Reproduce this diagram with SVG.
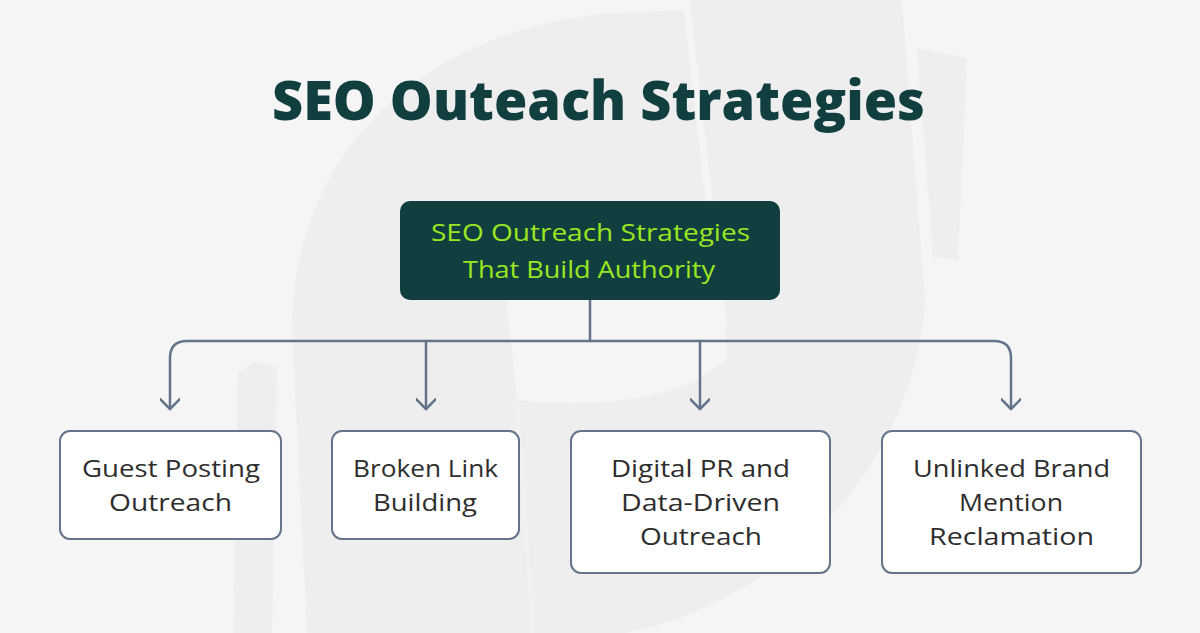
<svg xmlns="http://www.w3.org/2000/svg" width="1200" height="633" viewBox="0 0 1200 633">
  <style>
    .wm { fill: #eeeeee; }
    .wml { fill: #f5f5f5; }
    .title { font-family: "Open Sans", "Liberation Sans", sans-serif; font-weight: 800; font-size: 55px; fill: #113f3f; }
    .root { fill: #113f3f; }
    .roottxt { font-family: "Open Sans", "Liberation Sans", sans-serif; font-weight: 500; font-size: 24.5px; fill: #9be622; text-anchor: middle; }
    .leaf { fill: #ffffff; stroke: #64748b; stroke-width: 2; }
    .leaftxt { font-family: "Open Sans", "Liberation Sans", sans-serif; font-weight: 500; font-size: 24px; fill: #2e2e2e; text-anchor: middle; }
    .conn { fill: none; stroke: #64748b; stroke-width: 2.5; stroke-linecap: round; stroke-linejoin: round; }
  </style>
  <defs>
    <marker id="arrow" viewBox="0 0 20 20" refX="16" refY="10" markerWidth="20" markerHeight="20" markerUnits="userSpaceOnUse" orient="auto-start-reverse">
      <path d="M 6 0 L 16 10 L 6 20" fill="none" stroke="#64748b" stroke-width="2.5" stroke-linecap="round" stroke-linejoin="round"/>
    </marker>
  </defs>
  <rect x="0" y="0" width="1200" height="633" fill="#f5f5f5"/>
  <g id="watermark">
    <path class="wm" d="M 307 633 L 292 330 C 292 180 390 40 600 14 L 684 10 L 690 0 L 902 0 L 925 300 C 915 460 790 600 625 633 Z"/>
    <path class="wml" d="M 500 240 L 517 400 C 560 405 680 410 727 357 L 718 240 Z"/>
    <path d="M 686 0 L 724 330" stroke="#f5f5f5" stroke-width="7" fill="none"/>
    <path d="M 517 400 L 533 633" stroke="#f1f1f1" stroke-width="3" fill="none"/>
    <path class="wm" d="M 255 362 L 277 367 L 272 633 L 233 633 L 238 372 Z"/>
    <path class="wm" d="M 917 48 L 967 58 L 958 260 L 933 257 Z"/>
  </g>
  <g id="title">
    <text class="title" x="598.5" y="120" text-anchor="middle" textLength="653" lengthAdjust="spacingAndGlyphs">SEO Outeach Strategies</text>
  </g>
  <g id="connectors">
    <path class="conn" d="M 590 300 L 590 341"/>
    <path class="conn" d="M 170 409 L 170 358 Q 170 341 187 341 L 994 341 Q 1011 341 1011 358 L 1011 409" marker-end="url(#arrow)" marker-start="url(#arrow)"/>
    <path class="conn" d="M 426 341 L 426 409" marker-end="url(#arrow)"/>
    <path class="conn" d="M 700 341 L 700 409" marker-end="url(#arrow)"/>
  </g>
  <g id="root-node">
    <rect class="root" x="400" y="201" width="380" height="99" rx="10"/>
    <text class="roottxt" x="590.5" y="241" textLength="319" lengthAdjust="spacingAndGlyphs">SEO Outreach Strategies</text>
    <text class="roottxt" x="589" y="278" textLength="252" lengthAdjust="spacingAndGlyphs">That Build Authority</text>
  </g>
  <g id="node-guest-posting">
    <rect class="leaf" x="60" y="431" width="221" height="108" rx="10"/>
    <text class="leaftxt" x="171" y="477" textLength="178" lengthAdjust="spacingAndGlyphs">Guest Posting</text>
    <text class="leaftxt" x="170.5" y="511" textLength="123" lengthAdjust="spacingAndGlyphs">Outreach</text>
  </g>
  <g id="node-broken-link">
    <rect class="leaf" x="332" y="431" width="187" height="108" rx="10"/>
    <text class="leaftxt" x="425.5" y="477" textLength="145" lengthAdjust="spacingAndGlyphs">Broken Link</text>
    <text class="leaftxt" x="425" y="511" textLength="104" lengthAdjust="spacingAndGlyphs">Building</text>
  </g>
  <g id="node-digital-pr">
    <rect class="leaf" x="571" y="431" width="259" height="142" rx="10"/>
    <text class="leaftxt" x="700.5" y="477" textLength="179" lengthAdjust="spacingAndGlyphs">Digital PR and</text>
    <text class="leaftxt" x="700.5" y="511" textLength="159" lengthAdjust="spacingAndGlyphs">Data-Driven</text>
    <text class="leaftxt" x="701" y="545" textLength="122" lengthAdjust="spacingAndGlyphs">Outreach</text>
  </g>
  <g id="node-unlinked-brand">
    <rect class="leaf" x="882" y="431" width="259" height="142" rx="10"/>
    <text class="leaftxt" x="1011.5" y="477" textLength="197" lengthAdjust="spacingAndGlyphs">Unlinked Brand</text>
    <text class="leaftxt" x="1011" y="511" textLength="104" lengthAdjust="spacingAndGlyphs">Mention</text>
    <text class="leaftxt" x="1011.5" y="545" textLength="165" lengthAdjust="spacingAndGlyphs">Reclamation</text>
  </g>
</svg>
